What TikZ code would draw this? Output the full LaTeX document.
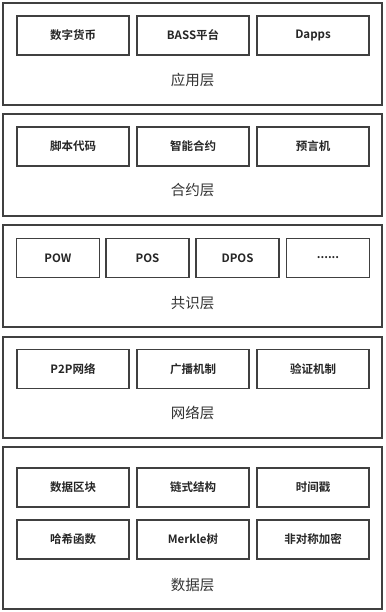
\documentclass[tikz,border=0pt]{standalone}
\usepackage{fontspec}
\setmainfont{Noto Sans CJK SC}[BoldFont={Noto Sans CJK SC Bold}]
\usetikzlibrary{positioning}

\newcommand{\sixdots}{......}

\begin{document}
\begin{tikzpicture}[
  x=1pt, y=-1pt,
  layer/.style={draw=black!75, line width=1.2pt, minimum width=379pt, inner sep=0pt},
  item/.style={draw=black!75, line width=1.2pt, minimum width=112pt, minimum height=39pt, inner sep=0pt,
               font=\fontsize{11.5}{13}\selectfont\bfseries, text=black!85},
  itemS/.style={item, minimum width=83pt},
  lname/.style={font=\fontsize{14.5}{16}\selectfont, text=black!80},
]
\useasboundingbox (0,0) rectangle (385,612);

% ---- five stacked layers, top to bottom ----
\foreach \name/\yt/\yb/\lab/\ly in {%
  app/3/105/应用层/80,
  contract/114/216/合约层/190,
  consensus/225/327/共识层/303,
  network/337/438/网络层/413,
  data/447/609/数据层/585}{
    \node[layer, minimum height=\yb pt-\yt pt] (\name) at (192.5,{(\yt+\yb)/2}) {};
    \node[lname] (\name-lbl) at (192.5,\ly) {\lab};
}

% ---- three-column rows ----
\foreach \name/\y/\a/\b/\c in {%
  app/35.5/数字货币/BASS平台/Dapps,
  contract/146.5/脚本代码/智能合约/预言机,
  network/369/P2P网络/广播机制/验证机制,
  dataA/487.5/数据区块/链式结构/时间戳,
  dataB/539.5/哈希函数/Merkle树/非对称加密}{
    \node[item] (\name-1) at (73,\y) {\a};
    \node[item] (\name-2) at (193,\y) {\b};
    \node[item] (\name-3) at (313,\y) {\c};
}

% ---- consensus row has four ----
\foreach \i/\x/\t in {1/58/POW, 2/147.5/POS, 3/237.5/DPOS, 4/328/\sixdots}{
  \node[itemS] (consensus-\i) at (\x,258) {\t};
}
\end{tikzpicture}
\end{document}
